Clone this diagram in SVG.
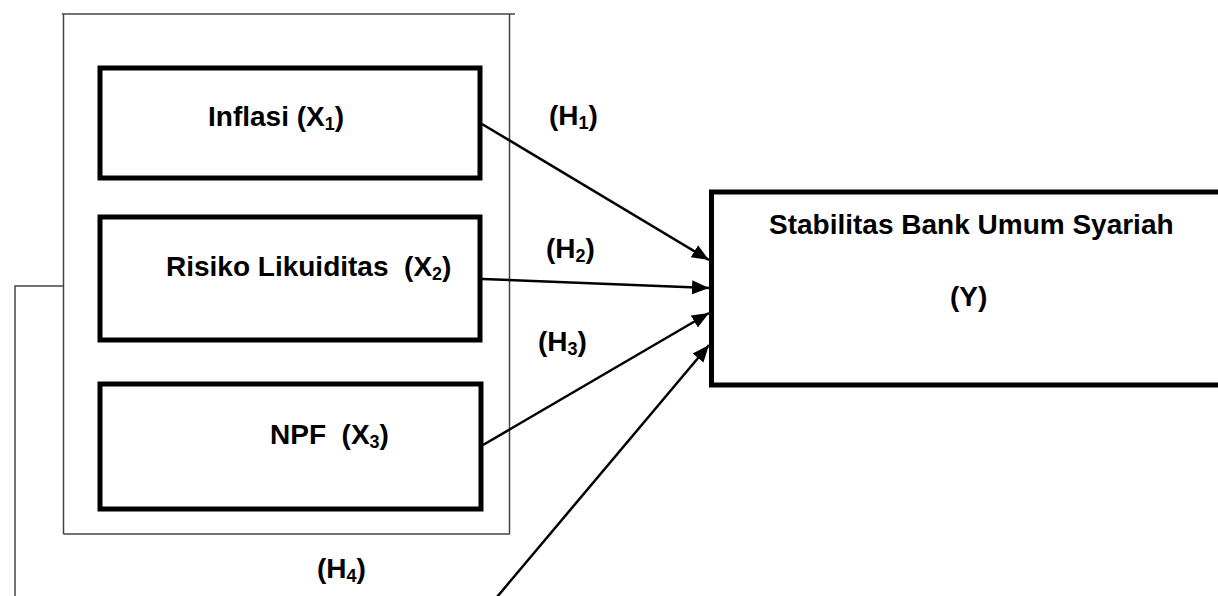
<svg xmlns="http://www.w3.org/2000/svg" width="1218" height="596" viewBox="0 0 1218 596">
<style>
.frame{fill:none;stroke:#444;stroke-width:1.5}
.box{fill:#fff;stroke:#000;stroke-width:5}
.lbl{font-family:"Liberation Sans",Arial,sans-serif;font-weight:bold;font-size:28px;fill:#000}
.sub{font-size:18px}
.conn{stroke:#000;stroke-width:2.5;fill:none}
</style>
<defs>
<marker id="arr" markerUnits="userSpaceOnUse" markerWidth="18" markerHeight="18" viewBox="0 0 18 18" refX="17" refY="9" orient="auto">
<path d="M0,2 L17,9 L0,16 Z" fill="#000"/>
</marker>
</defs>
<rect width="1218" height="596" fill="#fff"/>
<g id="container">
<line class="frame" x1="62" y1="14" x2="515" y2="14"/>
<line class="frame" x1="63.5" y1="14" x2="63.5" y2="534"/>
<line class="frame" x1="509.5" y1="14" x2="509.5" y2="534"/>
<line class="frame" x1="63.5" y1="534" x2="510" y2="534"/>
</g>
<g id="bracket">
<polyline class="frame" points="63.5,286 15,286 15,596"/>
</g>
<g id="node-x1">
<rect class="box" x="100" y="68" width="380" height="110"/>
<text class="lbl" x="208" y="126">Inflasi (X<tspan class="sub" dy="4">1</tspan><tspan dy="-4">)</tspan></text>
</g>
<g id="node-x2">
<rect class="box" x="100" y="217" width="380" height="123"/>
<text class="lbl" x="166" y="276" xml:space="preserve">Risiko Likuiditas  (X<tspan class="sub" dy="4">2</tspan><tspan dy="-4">)</tspan></text>
</g>
<g id="node-x3">
<rect class="box" x="100" y="384" width="381" height="125"/>
<text class="lbl" x="270" y="444" xml:space="preserve">NPF  (X<tspan class="sub" dy="4">3</tspan><tspan dy="-4">)</tspan></text>
</g>
<g id="node-y">
<rect class="box" x="711.5" y="192" width="520" height="193"/>
<text class="lbl" x="769" y="234">Stabilitas Bank Umum Syariah</text>
<text class="lbl" x="950" y="306">(Y)</text>
</g>
<g id="connectors">
<line class="conn" x1="482" y1="124" x2="709" y2="260" marker-end="url(#arr)"/>
<line class="conn" x1="482" y1="279" x2="709" y2="288" marker-end="url(#arr)"/>
<line class="conn" x1="483" y1="445" x2="709" y2="313" marker-end="url(#arr)"/>
<line class="conn" x1="497" y1="597" x2="709" y2="345" marker-end="url(#arr)"/>
</g>
<g id="labels">
<text class="lbl" x="549" y="125">(H<tspan class="sub" dy="4">1</tspan><tspan dy="-4">)</tspan></text>
<text class="lbl" x="546" y="258">(H<tspan class="sub" dy="4">2</tspan><tspan dy="-4">)</tspan></text>
<text class="lbl" x="538" y="351">(H<tspan class="sub" dy="4">3</tspan><tspan dy="-4">)</tspan></text>
<text class="lbl" x="317" y="578">(H<tspan class="sub" dy="4">4</tspan><tspan dy="-4">)</tspan></text>
</g>
</svg>
